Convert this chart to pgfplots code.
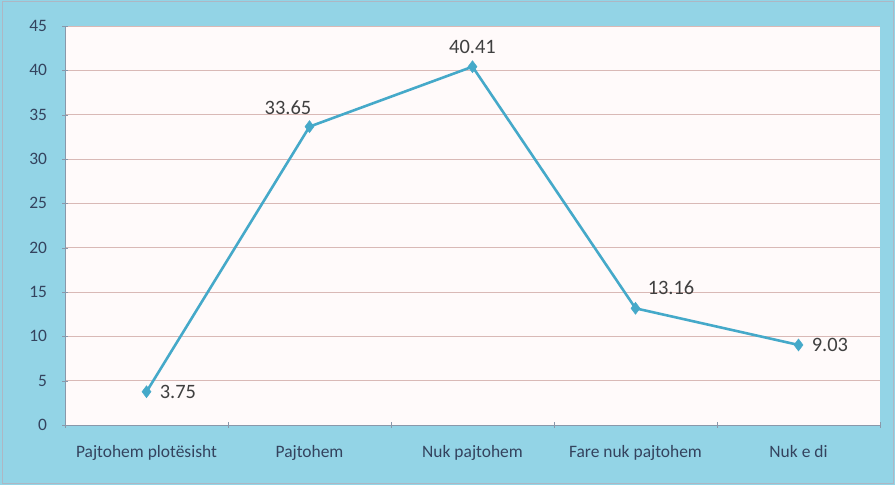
\documentclass[border=0pt]{standalone}
\usepackage{fontspec}
\setmainfont{Carlito}
\usepackage{pgfplots}
\usepackage{pgfplotstable}
\pgfplotsset{compat=1.18}
\usetikzlibrary{backgrounds}

\definecolor{bgblue}{HTML}{93D4E6}
\definecolor{plotbg}{HTML}{FFFAFA}
\definecolor{gridc}{HTML}{D9B9B6}
\definecolor{linec}{HTML}{45A9C9}
\definecolor{labtxt}{HTML}{3F3F3F}
\definecolor{ticktxt}{HTML}{34435E}
\definecolor{axisgray}{HTML}{8A98AA}

% answers (share of respondents, %)
\pgfplotstableread{
x y
0 3.75
1 33.65
2 40.41
3 13.16
4 9.03
}\answers

\begin{document}
\begin{tikzpicture}
\begin{axis}[
    scale only axis,
    width=815bp, height=399bp,
    xmin=-0.5, xmax=4.5,
    ymin=0, ymax=45,
    ytick={0,5,...,45},
    xtick={0,...,4},
    xticklabels={Pajtohem plotësisht, Pajtohem, Nuk pajtohem, Fare nuk pajtohem, Nuk e di},
    minor xtick={-0.5,0.5,...,4.5},
    major x tick style={draw=none},
    minor x tick style={draw=axisgray},
    major y tick style={draw=axisgray},
    tick align=outside,
    major tick length=5bp,
    minor tick length=5bp,
    axis x line=bottom,
    axis y line=left,
    axis line style={-, draw=axisgray, line width=0.8pt},
    ymajorgrids,
    grid style={draw=gridc, line width=0.9pt},
    axis background/.style={fill=plotbg},
    /pgf/number format/assume math mode=true,
    tick label style={font=\fontsize{17.5}{20}\selectfont, text=ticktxt},
    yticklabel style={xshift=-12bp},
    xticklabel style={yshift=-14bp},
]
\addplot[color=linec, line width=2.6pt, mark=diamond*, mark size=6bp,
    mark options={fill=linec, draw=linec, line width=0.5pt},
    nodes near coords,
    every node near coord/.append style={font=\fontsize{20.5}{22}\selectfont,
        text=labtxt, inner sep=4bp,
        /pgf/number format/.cd, fixed, fixed zerofill, precision=2},
    coordinate style/.condition={\coordindex==0 || \coordindex==4}{anchor=west, xshift=9bp},
    coordinate style/.condition={\coordindex==1}{anchor=south east, xshift=6bp, yshift=8bp},
    coordinate style/.condition={\coordindex==2}{anchor=south, yshift=9bp},
    coordinate style/.condition={\coordindex==3}{anchor=south west, xshift=8bp, yshift=9bp}]
    table[x=x, y=y] {\answers};
\coordinate (ll) at (rel axis cs:0,0);
\coordinate (ur) at (rel axis cs:1,1);
\end{axis}
\begin{scope}[on background layer]
\fill[bgblue] ([xshift=-65bp, yshift=-60bp]ll) rectangle ([xshift=15bp, yshift=26bp]ur);
\draw[axisgray!70, line width=1pt] ([xshift=-63bp, yshift=-58bp]ll) rectangle ([xshift=13bp, yshift=24bp]ur);
\end{scope}
\pgfresetboundingbox
\path ([xshift=-65bp, yshift=-60bp]ll) rectangle ([xshift=15bp, yshift=26bp]ur);
\end{tikzpicture}
\end{document}
